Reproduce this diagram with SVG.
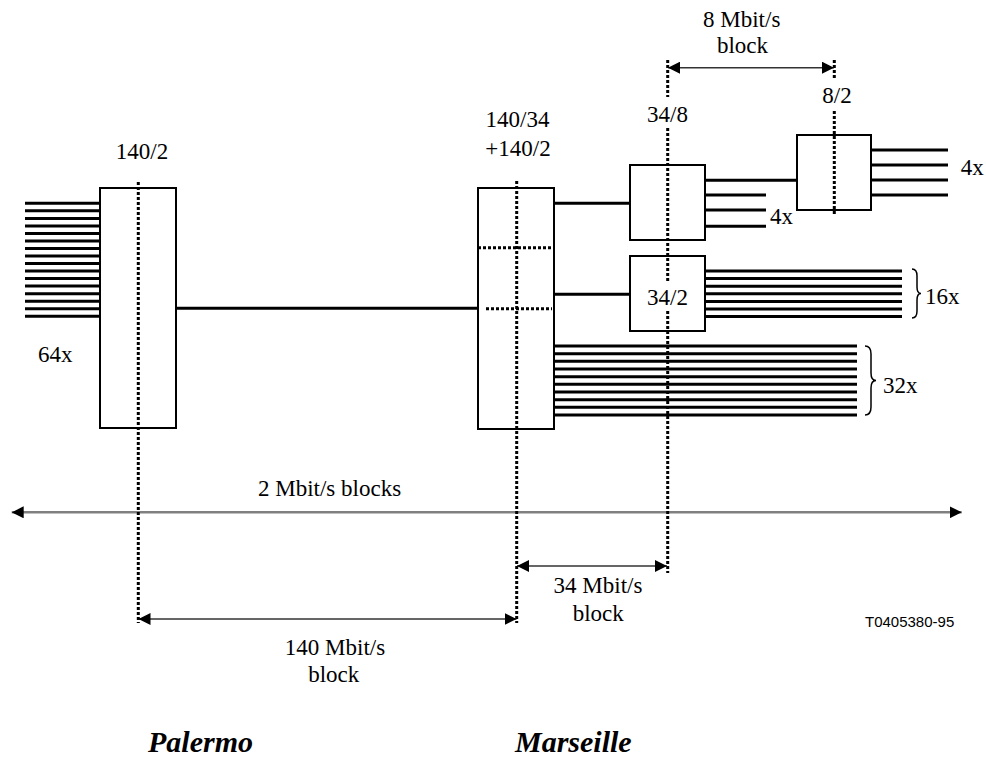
<svg xmlns="http://www.w3.org/2000/svg" width="986" height="758" viewBox="0 0 986 758">
<style>
.box{fill:#fff;stroke:#000;stroke-width:2}
.ln{stroke:#000;stroke-width:3;fill:none}
.dot{stroke:#000;stroke-width:3;stroke-dasharray:3 2;fill:none}
.arr{stroke:#333;stroke-width:1.5;fill:none;marker-start:url(#ah);marker-end:url(#ah)}
.arr2{stroke:#808080;stroke-width:2.5;fill:none;marker-start:url(#ah);marker-end:url(#ah)}
.br{stroke:#000;stroke-width:1.5;fill:none}
.t{font-family:'Liberation Serif','DejaVu Serif',serif;font-size:23px;fill:#000}
.c{text-anchor:middle}
.id{font-family:'Liberation Sans',Arial,sans-serif;font-size:15px;fill:#000}
.city{font-family:'Liberation Serif','DejaVu Serif',serif;font-size:30px;font-weight:bold;font-style:italic;fill:#000}
</style>
<defs>
<marker id="ah" viewBox="0 0 12 12" refX="12" refY="6" markerWidth="12" markerHeight="12" markerUnits="userSpaceOnUse" orient="auto-start-reverse">
<path d="M0,0 L12,6 L0,12 Z" fill="#000"/>
</marker>
</defs>

<g id="connectors">
<path class="ln" d="M25,203.3H100M25,210.8H100M25,218.4H100M25,225.9H100M25,233.4H100M25,241H100M25,248.5H100M25,256H100M25,263.5H100M25,271.1H100M25,278.6H100M25,286.1H100M25,293.7H100M25,301.2H100M25,308.7H100M25,316.2H100"/>
<path class="ln" d="M176,308.3H478"/>
<path class="ln" d="M554,203.3H630M554,294.3H630"/>
<path class="ln" d="M705,180.3H797M705,195H766M705,210H766M705,226.3H766"/>
<path class="ln" d="M871,150H948M871,165H948M871,180H948M871,195H948"/>
<path class="ln" d="M705,271H902M705,278.6H902M705,286.2H902M705,293.8H902M705,301.4H902M705,309H902M705,316.6H902"/>
<path class="ln" d="M554,346H857M554,353.7H857M554,361.3H857M554,369H857M554,376.7H857M554,384.3H857M554,392H857M554,399.7H857M554,407.3H857M554,415H857"/>
<path class="br" d="M912,269Q917,269 917,276V287Q917,293.5 921,293.5Q917,293.5 917,300V311Q917,318 912,318"/>
<path class="br" d="M865,346Q871,346 871,354V373Q871,380.5 876,380.5Q871,380.5 871,388V407Q871,415 865,415"/>
<line class="arr" x1="668" y1="67.7" x2="834" y2="67.7"/>
<line class="arr2" x1="11.7" y1="512.3" x2="961.7" y2="512.3"/>
<line class="arr" x1="517" y1="566" x2="667" y2="566"/>
<line class="arr" x1="138.5" y1="619" x2="516.5" y2="619"/>
</g>

<g id="n-140-2">
<rect class="box" x="100" y="188" width="76" height="240"/>
<text class="t c" x="142" y="159">140/2</text>
</g>

<g id="n-140-34">
<rect class="box" x="478" y="188" width="76" height="241"/>
<path class="dot" d="M478,247.7H554M486,308.7H552"/>
<text class="t c" x="517.5" y="127">140/34</text>
<text class="t c" x="518" y="156">+140/2</text>
</g>

<g id="n-34-8">
<rect class="box" x="630" y="165" width="75" height="75"/>
<text class="t c" x="667.5" y="122">34/8</text>
<text class="t" x="770" y="224">4x</text>
</g>

<g id="n-8-2">
<rect class="box" x="797" y="135" width="74" height="75"/>
<text class="t c" x="837" y="103">8/2</text>
<text class="t" x="960.7" y="175">4x</text>
</g>

<g id="n-34-2">
<rect class="box" x="630" y="256" width="75" height="75"/>
<text class="t c" x="667.5" y="305">34/2</text>
<text class="t" x="925" y="304">16x</text>
</g>

<g id="n-32x">
<text class="t" x="883" y="393">32x</text>
</g>

<g id="n-64x">
<text class="t" x="38" y="362">64x</text>
</g>

<g id="dotted">
<path class="dot" d="M138.3,182V623"/>
<path class="dot" d="M516.7,181V623"/>
<path class="dot" d="M667.7,60V97M667.7,128V282M667.7,311V573"/>
<path class="dot" d="M834.3,60V80M834.3,111V215"/>
</g>

<g id="labels">
<text class="t c" x="741.7" y="27">8 Mbit/s</text>
<text class="t c" x="742.5" y="53">block</text>
<text class="t" x="258" y="496">2 Mbit/s blocks</text>
<text class="t c" x="598" y="593">34 Mbit/s</text>
<text class="t c" x="598.3" y="621">block</text>
<text class="t c" x="335" y="655">140 Mbit/s</text>
<text class="t c" x="333.7" y="682">block</text>
<text class="id" x="865" y="627">T0405380-95</text>
<text class="city" x="148" y="752">Palermo</text>
<text class="city" x="515" y="752">Marseille</text>
</g>
</svg>
